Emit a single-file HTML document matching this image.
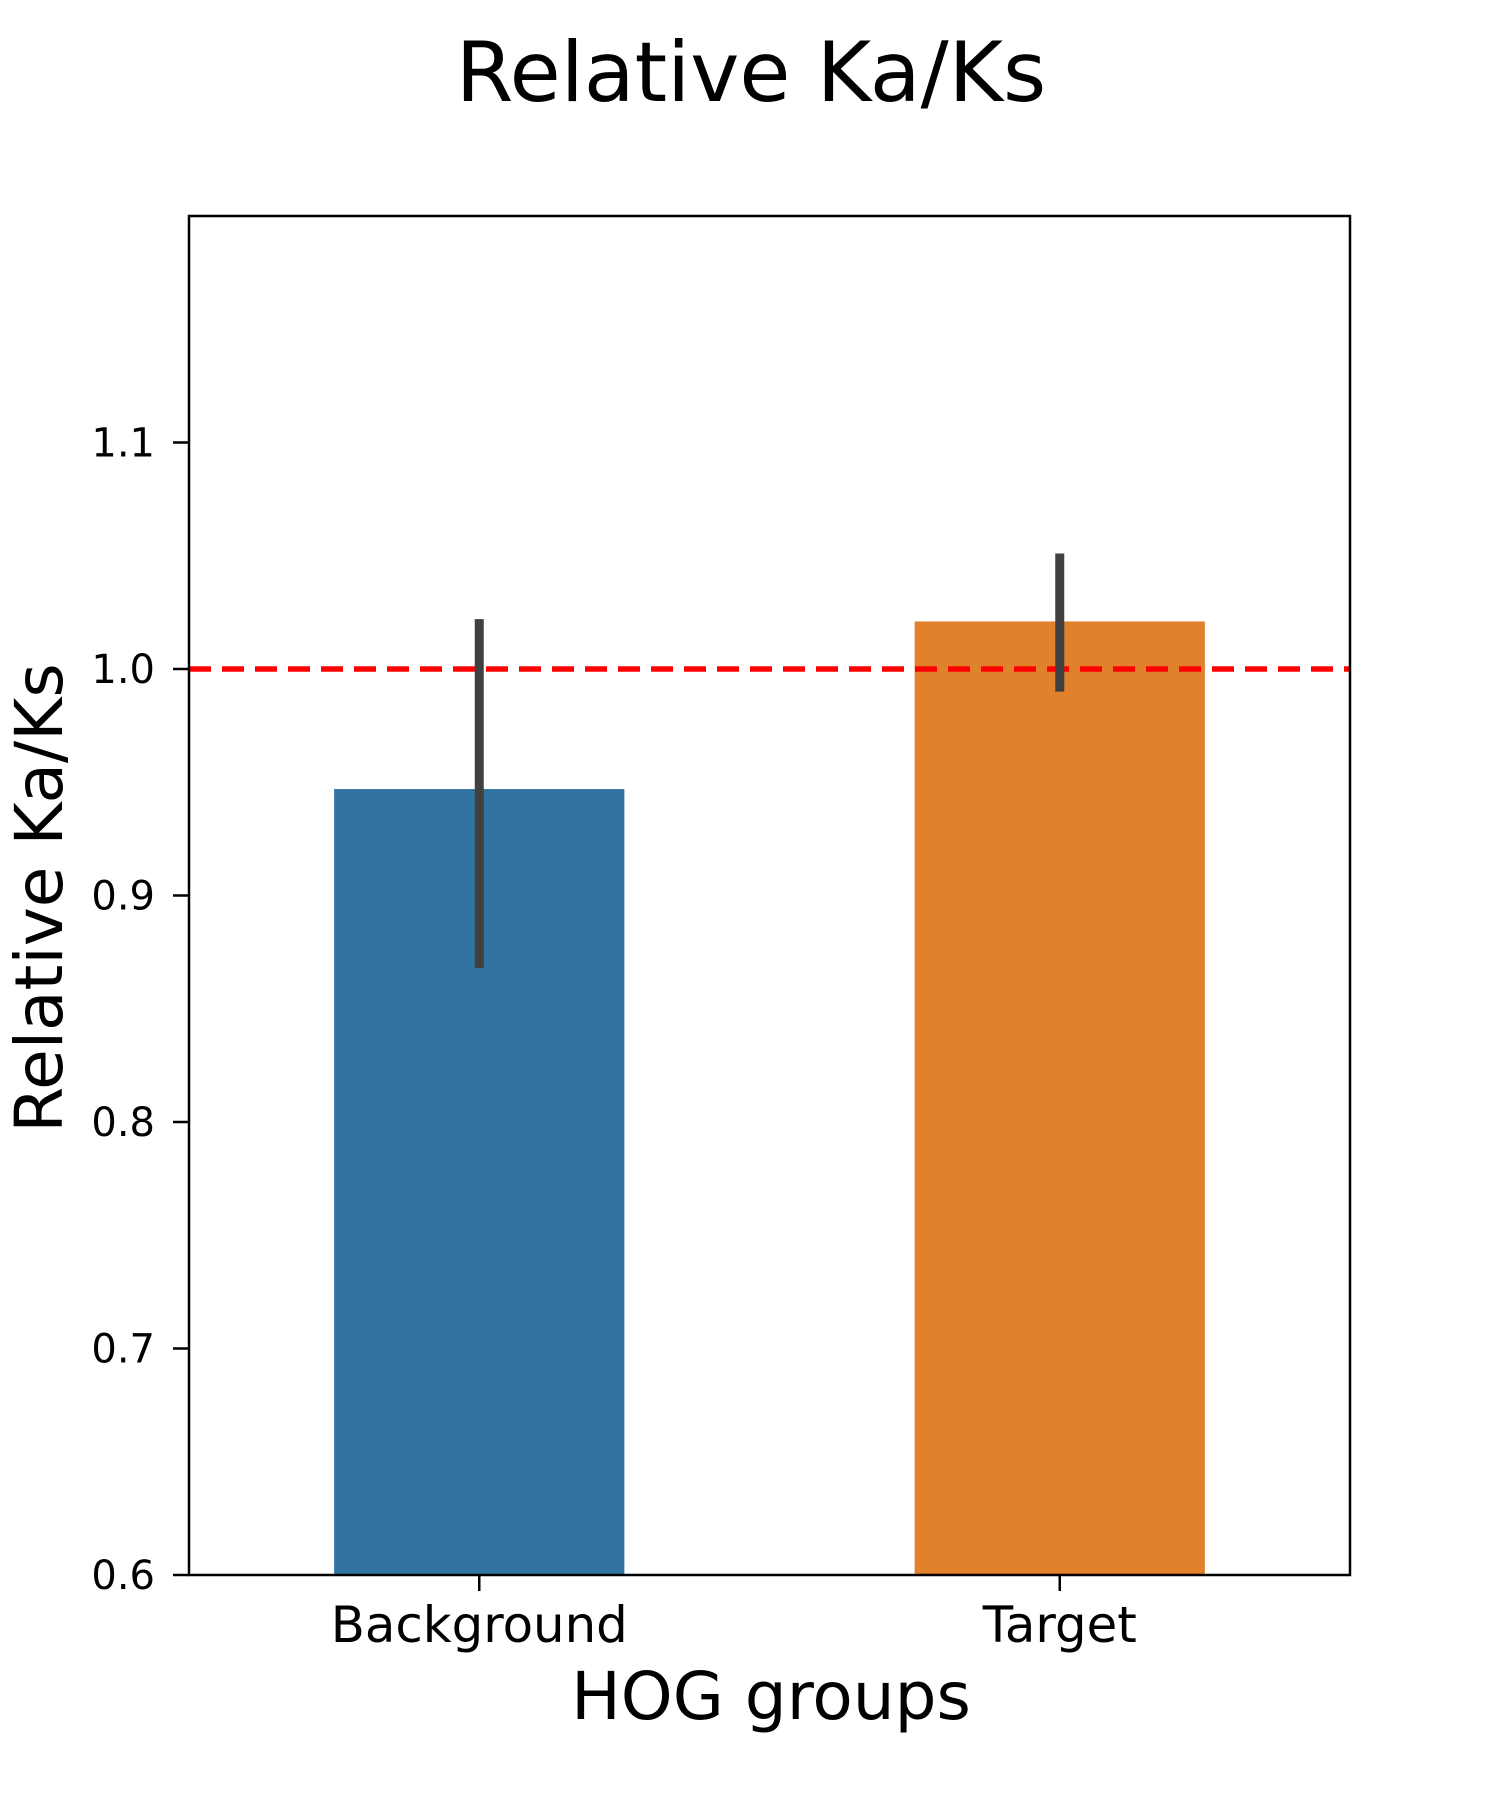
<!DOCTYPE html>
<html><head><meta charset="utf-8"><style>
html,body{margin:0;padding:0;background:#fff;}
svg{display:block;font-family:"DejaVu Sans","Liberation Sans",sans-serif;}
</style></head><body>
<svg id="chart" width="1500" height="1800" viewBox="0 0 1500 1800">
<text x="751" y="101" font-size="83" text-anchor="middle">Relative Ka/Ks</text>
<g id="plot"></g>
<text x="771" y="1719" font-size="66" text-anchor="middle">HOG groups</text>
<text transform="translate(62,898) rotate(-90)" font-size="66" text-anchor="middle">Relative Ka/Ks</text>
</svg>
<script>
const categories = ["Background", "Target"];
const values = [0.947, 1.021];
const errLow = [0.868, 0.990];
const errHigh = [1.022, 1.051];
const colors = ["#3274a1", "#e1812c"];
const yTicks = [0.6, 0.7, 0.8, 0.9, 1.0, 1.1];
const yTickLabels = ["0.6", "0.7", "0.8", "0.9", "1.0", "1.1"];
const refLine = [1.0];

const L = 189, R = 1350, T = 216, B = 1575;
const yMin = 0.6, yMax = 1.2;
const xMin = -0.5, xMax = 1.5;
const y = v => B - (v - yMin) / (yMax - yMin) * (B - T);
const x = v => L + (v - xMin) / (xMax - xMin) * (R - L);
const NS = "http://www.w3.org/2000/svg";
const g = document.getElementById('plot');
function mk(tag, attrs) {
  const e = document.createElementNS(NS, tag);
  for (const k in attrs) e.setAttribute(k, attrs[k]);
  g.appendChild(e);
  return e;
}
categories.forEach((c, i) => {
  const bw = 0.5;
  const r = mk('rect', {x: x(i - bw / 2), y: y(values[i]), width: x(i + bw / 2) - x(i - bw / 2), height: B - y(values[i]), fill: colors[i]});
  
  
});
refLine.forEach(v => {
  const l = mk('line', {x1: L, x2: R, y1: y(v), y2: y(v), stroke: '#ff0000', 'stroke-width': 5.5, 'stroke-dasharray': '22 11'});
  
  
});
categories.forEach((c, i) => {
  const e = mk('line', {x1: x(i), x2: x(i), y1: y(errLow[i]), y2: y(errHigh[i]), stroke: '#404040', 'stroke-width': 9});
  
  
});
const frame = mk('rect', {x: L, y: T, width: R - L, height: B - T, fill: 'none', stroke: '#000', 'stroke-width': 2.5});


yTicks.forEach((v, i) => {
  const t = mk('line', {x1: L - 16, x2: L, y1: y(v), y2: y(v), stroke: '#000', 'stroke-width': 2.5});
  
  
  const lb = mk('text', {x: L - 34, y: y(v) + 14, 'font-size': 40, 'text-anchor': 'end'});
  lb.textContent = yTickLabels[i];
  
  
});
categories.forEach((c, i) => {
  const t = mk('line', {x1: x(i), x2: x(i), y1: B, y2: B + 16, stroke: '#000', 'stroke-width': 2.5});
  
  
  const lb = mk('text', {x: x(i), y: 1642, 'font-size': 49.8, 'text-anchor': 'middle'});
  lb.textContent = c;
  
  
});
</script>
</body></html>
